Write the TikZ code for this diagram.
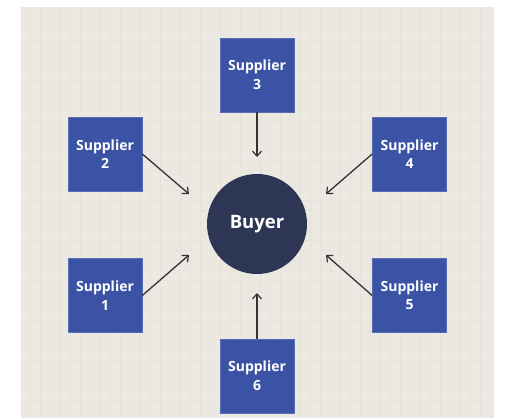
\documentclass[tikz,border=0pt]{standalone}
\usepackage{fontspec}
\setmainfont{Open Sans}
\usetikzlibrary{arrows.meta}
\definecolor{bgc}{HTML}{ECE8E2}
\definecolor{gridc}{HTML}{E7E2DB}
\definecolor{boxblue}{HTML}{3A53A4}
\definecolor{buyerc}{HTML}{2E3656}
\definecolor{arrowc}{HTML}{333333}
\tikzset{
  supbox/.style={rectangle, fill=boxblue, draw=boxblue!85!white, line width=0.6pt, minimum size=74pt, inner sep=0pt,
    text=white, align=center, font=\fontsize{14}{18.5}\selectfont\bfseries},
  buyernode/.style={circle, fill=buyerc, minimum size=100pt, inner sep=0pt, text=white,
    font=\fontsize{18.5}{22}\selectfont\bfseries},
  flow/.style={draw=arrowc, line width=1.3pt, -{Straight Barb[length=5pt,width=9pt,line width=1.2pt]}}
}
\begin{document}
\begin{tikzpicture}[x=1pt,y=-1pt]
\useasboundingbox (0,0) rectangle (512,419);
\fill[white] (0,0) rectangle (512,419);
\fill[bgc] (21,7) rectangle (494,418);
\draw[gridc, line width=0.5pt, step=10pt] (21,7) grid (494,418);
\node[supbox] (s1) at (105,295.5) {Supplier\\1};
\node[supbox] (s2) at (105,154) {Supplier\\2};
\node[supbox] (s3) at (257,75) {Supplier\\3};
\node[supbox] (s4) at (409.5,154) {Supplier\\4};
\node[supbox] (s5) at (409.5,295.5) {Supplier\\5};
\node[supbox] (s6) at (257,376) {Supplier\\6};
\node[buyernode] (b) at (257,224) {Buyer};
\coordinate (e1) at (189,255);
\coordinate (e2) at (189,194);
\coordinate (e3) at (257,157);
\coordinate (e4) at (326,194);
\coordinate (e5) at (326,255);
\coordinate (e6) at (257,293);
\draw[flow] (s1.east) -- (e1);
\draw[flow] (s2.east) -- (e2);
\draw[flow] (s3.south) -- (e3);
\draw[flow] (s4.west) -- (e4);
\draw[flow] (s5.west) -- (e5);
\draw[flow] (s6.north) -- (e6);
\end{tikzpicture}
\end{document}
